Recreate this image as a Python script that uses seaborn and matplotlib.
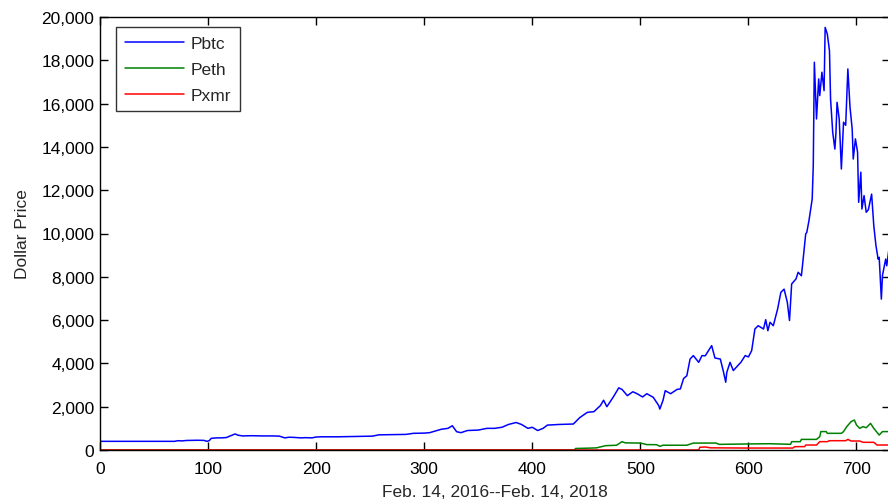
import matplotlib
matplotlib.use("Agg")
import matplotlib.pyplot as plt
from matplotlib.ticker import FuncFormatter
import seaborn as sns
import pandas as pd

# ---- data (day index since Feb. 14, 2016, dollar price) ----
btc_day = [0, 69, 72, 76, 80, 85, 90, 96, 99, 101, 103, 108, 112, 117, 120, 125, 128, 132, 140, 150,
           160, 166, 171, 175, 180, 186, 190, 196, 200, 205, 220, 243, 252, 258, 270, 283, 290, 300,
           305, 312, 316, 322, 326, 330, 334, 340, 350, 358, 365, 372, 378, 385, 390, 396, 400, 405,
           410, 414, 425, 438, 441, 444, 451, 457, 463, 466, 469, 475, 480, 483, 488, 493, 497, 502,
           506, 512, 517, 518, 521, 523, 528, 534, 537, 540, 543, 546, 549, 554, 557, 560, 566, 569,
           574, 577, 579, 580, 583, 586, 593, 597, 600, 603, 606, 609, 614, 616, 618, 620, 623, 627,
           630, 633, 636, 638, 640, 644, 646, 649, 650, 653, 654, 656, 659, 660, 661, 663, 665, 666,
           668, 670, 671, 673, 675, 676, 678, 680, 681, 682, 684, 686, 688, 690, 692, 694, 696, 697,
           699, 701, 702, 704, 705, 707, 709, 711, 714, 716, 718, 720, 721, 723, 724, 727, 728, 730]
btc_price = [400, 400, 430, 420, 440, 445, 450, 445, 400, 430, 540, 560, 560, 575, 640, 740, 680, 650, 660, 650,
             650, 640, 560, 590, 580, 560, 570, 560, 600, 610, 610, 630, 640, 700, 710, 720, 770, 780,
             800, 900, 960, 1000, 1120, 845, 800, 900, 920, 1000, 1000, 1050, 1180, 1270, 1180, 1000, 1050, 900,
             1000, 1150, 1180, 1200, 1350, 1500, 1740, 1770, 2050, 2300, 2000, 2450, 2870, 2800, 2510, 2690, 2600, 2450,
             2600, 2430, 2050, 1890, 2300, 2740, 2600, 2800, 2820, 3300, 3430, 4200, 4360, 4050, 4360, 4350, 4820, 4250,
             4200, 3590, 3130, 3590, 4050, 3670, 4050, 4360, 4300, 4590, 5590, 5740, 5590, 6020, 5510, 5900, 5740, 6510,
             7280, 7430, 6820, 5980, 7670, 7900, 8210, 8050, 8510, 9980, 10050, 10590, 11590, 13130, 17910, 15290, 17140, 16370,
             17450, 16600, 19520, 19210, 18440, 16210, 14670, 13900, 14670, 16060, 15290, 12980, 15140, 15000, 17600, 15830, 14830, 13440,
             14370, 13750, 11440, 12830, 11130, 11750, 10980, 11100, 11820, 10360, 9440, 8820, 8900, 6970, 8050, 8820, 8510, 9280]

eth_day = [0, 439, 440, 455, 460, 461, 468, 478, 483, 486, 500, 506, 515, 518, 521, 543, 549, 570, 573, 600,
           620, 639, 640, 648, 649, 663, 666, 667, 672, 673, 686, 688, 691, 695, 698, 700, 703, 706, 709, 713,
           716, 721, 724, 730]
eth_price = [0, 0, 70, 90, 100, 120, 200, 220, 385, 330, 320, 250, 245, 170, 220, 220, 320, 320, 260, 280,
             290, 262, 385, 385, 490, 490, 615, 850, 850, 770, 770, 850, 1080, 1310, 1385, 1155, 1000, 1080, 1030, 1230,
             1000, 690, 850, 850]

xmr_day = [0, 554, 555, 560, 565, 600, 641, 643, 652, 653, 663, 666, 673, 675, 690, 692, 695, 703, 706, 716, 719, 730]
xmr_price = [0, 0, 125, 140, 100, 90, 90, 155, 155, 230, 230, 385, 385, 430, 430, 490, 415, 415, 355, 355, 230, 230]

series_names = ["Pbtc", "Peth", "Pxmr"]
series_colors = ["#0000FF", "#008000", "#FF0000"]
x_ticks = [0, 100, 200, 300, 400, 500, 600, 700]
y_ticks = [0, 2000, 4000, 6000, 8000, 10000, 12000, 14000, 16000, 18000, 20000]

sns.set_theme(style="ticks")
plt.rcParams["font.family"] = ["Liberation Sans", "DejaVu Sans"]

fig = plt.figure(figsize=(8.88, 5.02), dpi=100)
ax = fig.add_axes([100 / 888, 51 / 502, 790 / 888, 433 / 502])

frames = [
    pd.DataFrame({"day": btc_day, "price": btc_price}),
    pd.DataFrame({"day": eth_day, "price": eth_price}),
    pd.DataFrame({"day": xmr_day, "price": xmr_price}),
]
for df, name, col in zip(frames, series_names, series_colors):
    sns.lineplot(data=df, x="day", y="price", color=col, label=name, linewidth=1.1,
                 estimator=None, sort=False, ax=ax)

ax.set_xlim(0, 731)
ax.set_ylim(0, 20000)
ax.set_xticks(x_ticks)
ax.set_yticks(y_ticks)
ax.yaxis.set_major_formatter(FuncFormatter(lambda v, p: f"{v:,.0f}"))
ax.tick_params(axis="both", direction="in", length=6, width=1, top=True, right=True,
               labelsize=12.5, colors="black")
ax.tick_params(axis="x", pad=8)
ax.tick_params(axis="y", pad=4)
for s in ax.spines.values():
    s.set_linewidth(1)
    s.set_color("black")

ax.set_xlabel("Feb. 14, 2016--Feb. 14, 2018", fontsize=12.5, labelpad=6)
ax.set_ylabel("Dollar Price", fontsize=12.5, labelpad=8)

leg = ax.legend(loc="upper left", bbox_to_anchor=(16 / 790, (433 - 10) / 433),
                fontsize=12.5, handlelength=3.4, handletextpad=0.4,
                labelspacing=0.62, borderpad=0.5, frameon=True, fancybox=False,
                borderaxespad=0)
leg.get_frame().set_edgecolor("black")
leg.get_frame().set_linewidth(1)

fig.savefig("out.png", dpi=100)
